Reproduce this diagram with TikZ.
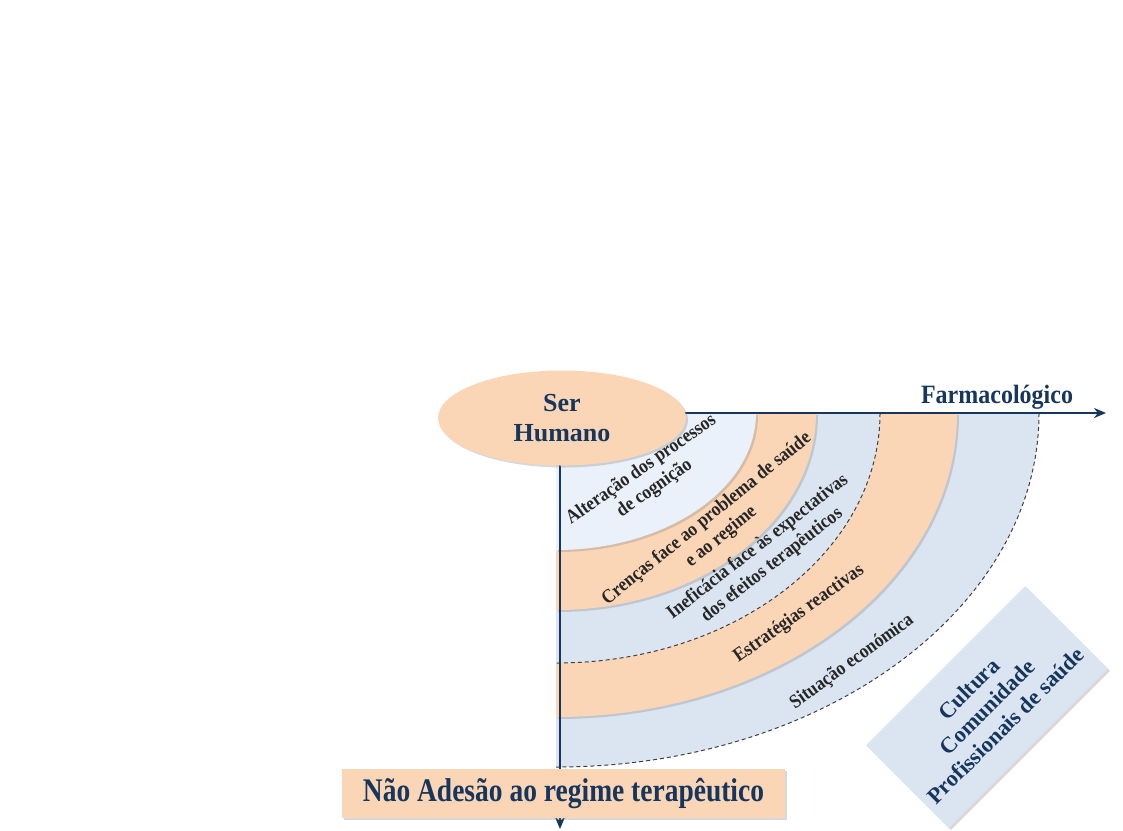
\documentclass[tikz,border=0pt]{standalone}
\usepackage{fontspec}
\setmainfont{Liberation Serif}
\usetikzlibrary{shapes.geometric}
\usetikzlibrary{shadows}
\usetikzlibrary{arrows.meta}

\definecolor{navy}{RGB}{23,54,93}
\definecolor{peach}{RGB}{251,214,182}
\definecolor{paleblue}{RGB}{234,241,250}
\definecolor{ringblue}{RGB}{219,229,241}

\tikzset{
    axis/.style={navy, line width=2.4pt, -{Stealth[length=12pt,width=10pt]}},
    ringlabel/.style={font=\fontsize{19.5}{23}\selectfont\bfseries, text=black!85, align=center, inner sep=0pt, xscale=0.9, transform shape},
    dashring/.style={black!75, line width=1pt, dash pattern=on 4pt off 3pt},
    ringshadow/.style={drop shadow={opacity=0.3, shadow xshift=2pt, shadow yshift=-2pt}},
    bigtext/.style 2 args={text=navy, font=\fontsize{#1}{#2}\selectfont\bfseries, align=center}
}

\begin{document}
\begin{tikzpicture}[x=1pt,y=-1pt]

            \useasboundingbox[fill=white] (0,0) rectangle (1123,830);

            \coordinate (c) at (556,413);
            \coordinate (o) at (560,413);
            \coordinate (farm) at (1106,413);
            \coordinate (down) at (560,829);

            % rings, from the outside in
            \fill[ringblue] (c) -- (1039,413) arc[start angle=0, end angle=90, x radius=483, y radius=354] -- cycle;
            \fill[peach, ringshadow] (c) -- (957,413) arc[start angle=0, end angle=90, x radius=401, y radius=304] -- cycle;
            \fill[ringblue] (c) -- (880,413) arc[start angle=0, end angle=90, x radius=324, y radius=250] -- cycle;
            \fill[peach, ringshadow] (c) -- (816,413) arc[start angle=0, end angle=90, x radius=260, y radius=197] -- cycle;
            \fill[paleblue, ringshadow] (c) -- (756,413) arc[start angle=0, end angle=90, x radius=200, y radius=137] -- cycle;

            \draw[dashring] (1039,413) arc[start angle=0, end angle=90, x radius=483, y radius=354];
            \draw[dashring] (880,413) arc[start angle=0, end angle=90, x radius=324, y radius=250];

            % axes
            \draw[axis] (o) -- (farm);
            \draw[axis] (o) -- (down);

            \node (ser) [ellipse, fill=peach, ringshadow, minimum width=248pt, minimum height=95pt, bigtext={26}{30}] at (562,418) {Ser\\Humano};
            \node (farmlbl) [bigtext={24}{28}, yscale=1.1, transform shape] at (997,397) {Farmacológico};
            \node (nao) [fill=peach, ringshadow, minimum width=443pt, minimum height=41pt, bigtext={27.5}{31}, yscale=1.2, transform shape] at (563.5,793.5) {Não Adesão ao regime terapêutico};
            \node (cult) [fill=ringblue, ringshadow, minimum width=225pt, minimum height=117pt, rotate=45, bigtext={22.5}{26}] at (987,707) {Cultura\\Comunidade\\Profissionais de saúde};

            % ring labels
            \node (cog) [rotate=35, ringlabel] at (648,479) {Alteração dos processos\\de cognição};
            \node (crencas) [rotate=39, ringlabel] at (714,528) {Crenças face ao problema de saúde\\e ao regime};
            \node (inef) [rotate=38, ringlabel] at (765,556) {Ineficácia face às expectativas\\dos efeitos terapêuticos};
            \node (estrat) [rotate=35.5, ringlabel] at (799,614) {Estratégias reactivas};
            \node (sit) [rotate=36, ringlabel] at (852,662) {Situação económica};

\end{tikzpicture}
\end{document}
